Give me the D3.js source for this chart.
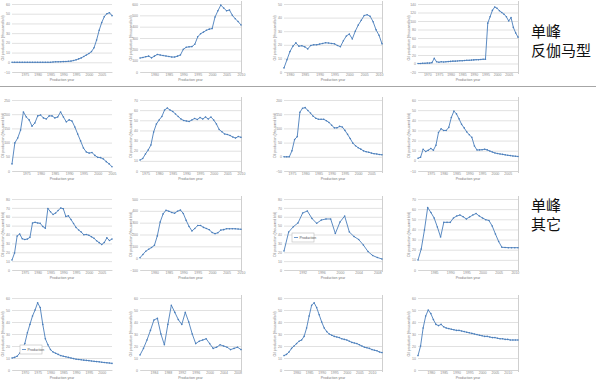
<!DOCTYPE html>
<html>
<head>
<meta charset="utf-8">
<script src="https://cdn.jsdelivr.net/npm/d3@7"></script>
<style>
  body { margin: 0; background: #fff; }
  svg { display: block; }
</style>
</head>
<body>
<svg id="chart" width="603" height="380"></svg>
<script>
// ===== DATA =====
// row 1
const r1c1 = [0,0,0,0,0,0,0,0,0,0,0,0,0,0,0,0,0.3,0.5,0.5,0.6,0.7,0.8,1,1.2,1.8,2.5,3.5,4.5,6,7.5,9,11,15,23,33,41,47,50,51,48];
const r1c2 = [123,128,135,140,125,140,155,150,145,141,137,132,132,140,150,200,218,222,224,245,310,338,352,368,378,383,485,540,590,565,540,547,500,470,445,415];
const r1c3 = [3,9,15,19,21.4,19,19.3,18.5,17,19.5,20,20,20.5,21,21.5,21.3,21,20.7,19.5,18.6,23,26.5,27.9,24.3,30,34.5,38,41.5,42.1,41,37,31,27,20.7];
const r1c4 = [0,0,0.5,0.5,1,1,2,12,4,3,4,3.5,4,4.5,5,5.5,5.5,6,6.5,6.5,7,7.5,7.5,8,8.5,9,9,9.5,10,10,95,110,125,133,130,124,120,116,110,100,108,85,72,62];
// row 2
const r2c1 = [25,99,116,144,208,190,180,158,169,194,197,187,183,194,194,187,190,208,190,173,180,176,155,130,106,81,67,63,65,55,48,47,42,33,25,15];
const r2c2 = [10.8,12.3,16.8,20.7,25.6,38.5,46.3,50.3,53.7,60.1,62.1,60.1,58.7,56.2,53.7,51.3,49.8,49.3,48.8,50.3,51.8,50.8,52.7,51.3,53.2,51.3,53.2,50.3,46.3,40.9,38.7,36.5,36,35,33.5,32.5,34,33.2];
const r2c3 = [0,0,0,21,61,71,157,171,173,163,154,143,136,132,132,132,127,121,111,102,102,107,105,93,79,64,48,39,32,27,21,18,16,13,11,10,8,7];
const r2c4 = [2.6,3.6,11.5,9.2,10.5,12.2,10.5,15.4,28,31.6,30,30,33,42.8,49,46.3,41.4,36,32.5,28.6,25.7,23.2,14.7,10.7,10.8,11,11.5,10.8,9.7,8.7,7.8,7.2,6.8,6.4,5.9,5.5,5.2,4.8,4.6,4.3];
// row 3
const r3c1 = [11.3,19.2,38.3,40.6,35.2,34.3,34.9,36.8,53,53.7,53,52.6,49,47,69.3,65.7,62.5,64.2,67,69.9,69,60.3,61,56.9,52.4,47.9,45,42.8,39.7,40,39.1,37.4,35.7,32.9,30.8,28.7,31,36.3,33.2,34.9];
const r3c2 = [4,31,59,75,90,109,188,306,374,405,397,386,380,397,407,378,319,268,230,251,276,276,260,251,240,217,207,215,237,241,249,248,249,248,246,244];
const r3c3 = [21.4,42.8,48.8,53,64.2,66.5,58,52.6,56.3,57.5,57.5,41.1,54.1,60.8,42.8,37.7,34.4,28.2,20.8,16.3,14.1,12.4];
const r3c4 = [9.9,20.7,39.4,61.6,56.7,51.3,42.4,32.5,47,47,47,51.3,53.2,54.2,52.5,50.3,52.3,54.2,55.7,53.2,51.3,49.6,48.8,43.4,35.5,28.1,22.4,22.2,22,22,22,22];
// row 4
const r4c1 = [10,10.5,11.5,14,18,22,31,38,45,50,56,52,38,26,21,17,15,14,13,12,11.5,11,10.5,10,9.5,9,8.8,8.5,8.2,8,7.8,7.5,7.2,7,6.8,6.5,6.2,6,5.8,5.5];
const r4c2 = [12.5,18,25,33,41.7,43,30,21,38,54,48,42,38,48,40,30,22,24,25,26,22,18,19,21,20,19,17,18,19,17];
const r4c3 = [12,13,15,18,20,22,24,25,28,35,45,54,56,52,46,40,35,32,30,29,28,27.5,27,26,25.5,25,24,23,22.5,22,21,20,19,18.5,18,17,16.5,16,15,14.5];
const r4c4 = [12,20,35,45,50,47,42,38,37,38,36,35,34.5,34,33.5,33,33,32.5,32,31.5,31,30.5,30,29.5,29,28.5,28,28,27.5,27,27,26.5,26,26,25.5,25.5,25,25,25,25];

// first year of each series (row by row)
const startYears = [1970,1975,1978,1966, 1970,1973,1972,1970, 1970,1975,1988,1980, 1965,1980,1975,1975];

// y tick values for each panel
const yTicks = [
  [-10,0,10,20,30,40,50,60],
  [0,100,200,300,400,500,600],
  [0,10,20,30,40,50],
  [-20,0,20,40,60,80,100,120,140],
  [0,50,100,150,200,250],
  [0,10,20,30,40,50,60,70],
  [-50,0,50,100,150,200],
  [-10,0,10,20,30,40,50,60],
  [0,10,20,30,40,50,60,70,80],
  [-100,0,100,200,300,400,500],
  [0,10,20,30,40,50,60,70,80],
  [0,10,20,30,40,50,60,70],
  [0,10,20,30,40,50,60],
  [0,10,20,30,40,50,60],
  [0,10,20,30,40,50,60],
  [0,10,20,30,40,50,60]
];

const xTitle = "Production year";
const yTitle = "Oil production (thousand b/d)";
const groupLabels = [["单峰", "反伽马型"], ["单峰", "其它"]];
const legendLabels = ["Production", "Production"];

const series = [r1c1,r1c2,r1c3,r1c4, r2c1,r2c2,r2c3,r2c4, r3c1,r3c2,r3c3,r3c4, r4c1,r4c2,r4c3,r4c4];

// ===== LAYOUT =====
const cols = [[12,112],[140,241],[284,382],[418,518]];
const rows = [[4,72],[100,171],[199,270],[298,370]];

const svg = d3.select("#chart");
const blue = "#4a7ebb";

series.forEach((values, k) => {
  const row = Math.floor(k / 4), col = k % 4;
  const [x0, x1] = cols[col];
  const [y0, y1] = rows[row];
  const start = startYears[k];
  const end = start + values.length - 1;
  const ticks = yTicks[k];

  const x = d3.scaleLinear().domain([start, end]).range([x0, x1]);
  const y = d3.scaleLinear().domain([ticks[0], ticks[ticks.length - 1]]).range([y1, y0]);

  const g = svg.append("g");

  // gridlines + y labels
  const ya = g.append("g")
    .attr("transform", `translate(${x0},0)`)
    .call(d3.axisLeft(y).tickValues(ticks).tickSize(-(x1 - x0)).tickPadding(2));
  ya.select(".domain").remove();
  ya.selectAll("line").attr("stroke", "#d9d9d9").attr("stroke-width", 0.8);
  ya.selectAll("text").style("font-size", "3.5px").style("font-family", "Liberation Sans, Arial, sans-serif").attr("fill", "#8a8a8a");

  // x labels
  const step = values.length > 30 ? 5 : 4;
  const xt = d3.range(Math.ceil((start + 2) / step) * step, end + 1, step);
  const xa = g.append("g")
    .attr("transform", `translate(0,${y1})`)
    .call(d3.axisBottom(x).tickValues(xt).tickSize(0).tickPadding(2).tickFormat(d3.format("d")));
  xa.select(".domain").attr("stroke", "#d0d0d0").attr("stroke-width", 0.8);
  xa.selectAll("text").style("font-size", "3.5px").style("font-family", "Liberation Sans, Arial, sans-serif").attr("fill", "#8a8a8a");

  // axis titles
  g.append("text")
    .attr("x", (x0 + x1) / 2).attr("y", y1 + 9)
    .attr("text-anchor", "middle")
    .style("font-size", "3.5px").style("font-family", "Liberation Sans, Arial, sans-serif")
    .attr("fill", "#7a7a7a").text(xTitle);
  g.append("text")
    .attr("transform", `translate(${x0 - 8},${(y0 + y1) / 2}) rotate(-90)`)
    .attr("text-anchor", "middle")
    .style("font-size", "3.5px").style("font-family", "Liberation Sans, Arial, sans-serif")
    .attr("fill", "#7a7a7a").text(yTitle);

  // right frame edge
  if (col > 0) {
    g.append("line")
      .attr("x1", x1 + 0.5).attr("x2", x1 + 0.5)
      .attr("y1", y0 - 3).attr("y2", y1 + 2)
      .attr("stroke", "#cfcfcf").attr("stroke-width", 1);
  }

  // series line
  g.append("path")
    .datum(values)
    .attr("fill", "none")
    .attr("stroke", blue)
    .attr("stroke-width", 0.9)
    .attr("d", d3.line().x((d, i) => x(start + i)).y(d => y(d)));

  g.selectAll(".pt")
    .data(values)
    .enter()
    .append("circle")
    .attr("class", "pt")
    .attr("cx", (d, i) => x(start + i))
    .attr("cy", d => y(d))
    .attr("r", 0.8)
    .attr("fill", blue);
});

// legends in two panels
const legendBoxes = [[292, 233], [20, 345]];
legendBoxes.forEach(([lx, ly], i) => {
  const lg = svg.append("g").attr("transform", `translate(${lx},${ly})`);
  lg.append("rect").attr("width", 22).attr("height", 9).attr("fill", "#fff").attr("stroke", "#bdbdbd").attr("stroke-width", 0.6);
  lg.append("line").attr("x1", 2).attr("x2", 6).attr("y1", 4.5).attr("y2", 4.5).attr("stroke", blue).attr("stroke-width", 0.8);
  lg.append("text").attr("x", 7.5).attr("y", 5.7)
    .style("font-size", "3.5px").style("font-family", "Liberation Sans, Arial, sans-serif")
    .attr("fill", "#555").text(legendLabels[i]);
});

// separator under the first row
svg.append("line")
  .attr("x1", 0).attr("x2", 596)
  .attr("y1", 86.5).attr("y2", 86.5)
  .attr("stroke", "#a6a6a6").attr("stroke-width", 1);

// group labels on the right
const labelY = [[36.5, 55.5], [210.5, 229.5]];
groupLabels.forEach((lines, i) => {
  lines.forEach((t, j) => {
    svg.append("text")
      .attr("x", 531).attr("y", labelY[i][j])
      .style("font-size", "15px")
      .style("font-family", "Noto Sans CJK SC, sans-serif")
      .attr("fill", "#111")
      .text(t);
  });
});
</script>
</body>
</html>
